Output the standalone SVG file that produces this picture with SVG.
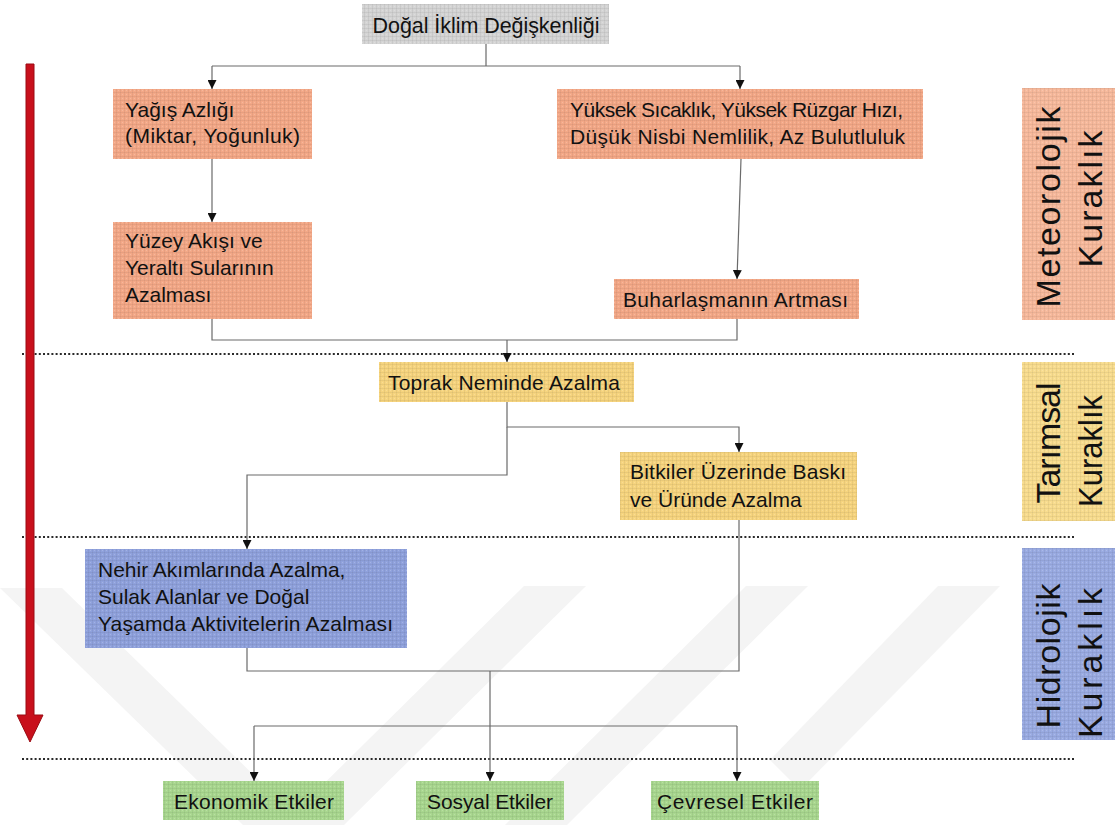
<svg xmlns="http://www.w3.org/2000/svg" width="1115" height="825" viewBox="0 0 1115 825">
  <defs>
    <style>
      text { font-family: "Liberation Sans", Arial, sans-serif; fill: #111111; }
      .t { font-size: 21px; }
      .side { font-size: 34px; }
      .grey { fill: #d4d4d4; }
      .salmon { fill: #f3a887; }
      .salmon-lt { fill: #f7b99c; }
      .yellow { fill: #f6d47e; }
      .yellow-lt { fill: #f8dc8e; }
      .blue { fill: #8fa1dc; }
      .blue-lt { fill: #9aabe2; }
      .green { fill: #a9d78f; }
      .tex { fill: url(#tex); }
      .conn { fill: none; stroke: #6a6a6a; stroke-width: 1.2; }
      .arr { marker-end: url(#ah); }
      .dots { fill: none; stroke: #2a2a2a; stroke-width: 2.2; stroke-dasharray: 2 2.2; }
      .wm { fill: #f4f4f4; }
    </style>
    <!-- canvas-like grain laid over the filled boxes -->
    <pattern id="tex" width="4" height="4" patternUnits="userSpaceOnUse">
      <path d="M0 0.5H4M0.5 0V4" stroke="#000" stroke-opacity="0.05" stroke-width="1"/>
      <rect x="2" y="2" width="1" height="1" fill="#fff" fill-opacity="0.18"/>
    </pattern>
    <marker id="ah" viewBox="0 0 10 10" refX="10" refY="5" markerWidth="9" markerHeight="9" markerUnits="userSpaceOnUse" orient="auto">
      <path d="M0,0 L10,5 L0,10 Z" fill="#111"/>
    </marker>
  </defs>

  <rect width="1115" height="825" fill="#ffffff"/>

  <!-- faint background chevrons -->
  <g id="watermark">
    <polygon class="wm" points="0,588 62,588 305,825 243,825"/>
    <polygon class="wm" points="282,825 344,825 586,586 524,586"/>
    <polygon class="wm" points="505,825 567,825 808,586 746,586"/>
    <polygon class="wm" points="938,586 1000,586 800,790 770,760"/>
  </g>

  <!-- stage separators -->
  <g id="separators">
    <line class="dots" x1="22" y1="354" x2="1076" y2="354"/>
    <line class="dots" x1="22" y1="537" x2="1076" y2="537"/>
    <line class="dots" x1="22" y1="759" x2="1076" y2="759"/>
  </g>

  <!-- time direction arrow -->
  <g id="time-arrow">
    <path d="M26,64 H34 V715 H43 L30,742 L17,715 H26 Z" fill="#c8101c" stroke="#9a0a12" stroke-width="1"/>
  </g>

  <g id="connectors">
    <path class="conn" d="M486,44 V66 M212,66 H740"/>
    <path class="conn arr" d="M212,66 V89"/>
    <path class="conn arr" d="M740,66 V89"/>
    <path class="conn arr" d="M212,159 V222"/>
    <path class="conn arr" d="M741,159 L737,279"/>
    <path class="conn" d="M212,319 V340 H737 V319"/>
    <path class="conn arr" d="M507,340 V362"/>
    <path class="conn arr" d="M507,402 V427 H739 V452"/>
    <path class="conn arr" d="M507,427 V475 H247 V549"/>
    <path class="conn" d="M247,648 V671 H739 V520"/>
    <path class="conn" d="M490,671 V726 M254,726 H737"/>
    <path class="conn arr" d="M254,726 V781"/>
    <path class="conn arr" d="M490,726 V781"/>
    <path class="conn arr" d="M737,726 V781"/>
  </g>

  <g id="n-iklim">
    <rect class="grey" x="362" y="4" width="247" height="40"/>
    <rect class="tex" x="362" y="4" width="247" height="40"/>
    <text x="486" y="33" text-anchor="middle" style="font-size:21.5px" textLength="227">Doğal İklim Değişkenliği</text>
  </g>

  <g id="n-yagis">
    <rect class="salmon" x="113" y="89" width="199" height="70"/>
    <rect class="tex" x="113" y="89" width="199" height="70"/>
    <text class="t" x="125" y="117">Yağış Azlığı</text>
    <text class="t" x="125" y="143" textLength="175">(Miktar, Yoğunluk)</text>
  </g>

  <g id="n-sicaklik">
    <rect class="salmon" x="557" y="89" width="366" height="70"/>
    <rect class="tex" x="557" y="89" width="366" height="70"/>
    <text class="t" x="570" y="117" textLength="333">Yüksek Sıcaklık, Yüksek Rüzgar Hızı,</text>
    <text class="t" x="570" y="144" textLength="335">Düşük Nisbi Nemlilik, Az Bulutluluk</text>
  </g>

  <g id="n-yuzey">
    <rect class="salmon" x="113" y="222" width="199" height="97"/>
    <rect class="tex" x="113" y="222" width="199" height="97"/>
    <text class="t" x="125" y="248">Yüzey Akışı ve</text>
    <text class="t" x="125" y="275">Yeraltı Sularının</text>
    <text class="t" x="125" y="302">Azalması</text>
  </g>

  <g id="n-buhar">
    <rect class="salmon" x="614" y="279" width="245" height="40"/>
    <rect class="tex" x="614" y="279" width="245" height="40"/>
    <text class="t" x="623" y="307" textLength="225">Buharlaşmanın Artması</text>
  </g>

  <g id="n-toprak">
    <rect class="yellow" x="379" y="362" width="255" height="40"/>
    <rect class="tex" x="379" y="362" width="255" height="40"/>
    <text class="t" x="388" y="390" textLength="232">Toprak Neminde Azalma</text>
  </g>

  <g id="n-bitki">
    <rect class="yellow" x="620" y="452" width="237" height="68"/>
    <rect class="tex" x="620" y="452" width="237" height="68"/>
    <text class="t" x="630" y="479" textLength="216">Bitkiler Üzerinde Baskı</text>
    <text class="t" x="630" y="507">ve Üründe Azalma</text>
  </g>

  <g id="n-nehir">
    <rect class="blue" x="85" y="549" width="322" height="99"/>
    <rect class="tex" x="85" y="549" width="322" height="99"/>
    <text class="t" x="98" y="577">Nehir Akımlarında Azalma,</text>
    <text class="t" x="98" y="604">Sulak Alanlar ve Doğal</text>
    <text class="t" x="98" y="631" textLength="295">Yaşamda Aktivitelerin Azalması</text>
  </g>

  <g id="n-ekonomik">
    <rect class="green" x="163" y="781" width="181" height="39"/>
    <rect class="tex" x="163" y="781" width="181" height="39"/>
    <text class="t" x="254" y="809" text-anchor="middle" textLength="160">Ekonomik Etkiler</text>
  </g>

  <g id="n-sosyal">
    <rect class="green" x="416" y="781" width="148" height="39"/>
    <rect class="tex" x="416" y="781" width="148" height="39"/>
    <text class="t" x="490" y="809" text-anchor="middle" textLength="126">Sosyal Etkiler</text>
  </g>

  <g id="n-cevresel">
    <rect class="green" x="651" y="781" width="168" height="39"/>
    <rect class="tex" x="651" y="781" width="168" height="39"/>
    <text class="t" x="735" y="809" text-anchor="middle" textLength="156">Çevresel Etkiler</text>
  </g>

  <g id="l-meteorolojik">
    <rect class="salmon-lt" x="1022" y="88" width="93" height="232"/>
    <rect class="tex" x="1022" y="88" width="93" height="232"/>
    <text class="side" transform="translate(1060,207) rotate(-90)" text-anchor="middle" textLength="201" lengthAdjust="spacing">Meteorolojik</text>
    <text class="side" transform="translate(1102,199) rotate(-90)" text-anchor="middle" textLength="137" lengthAdjust="spacing">Kuraklık</text>
  </g>

  <g id="l-tarimsal">
    <rect class="yellow-lt" x="1022" y="362" width="93" height="159"/>
    <rect class="tex" x="1022" y="362" width="93" height="159"/>
    <text class="side" transform="translate(1060,443) rotate(-90)" text-anchor="middle" textLength="121" lengthAdjust="spacing">Tarımsal</text>
    <text class="side" transform="translate(1102,451) rotate(-90)" text-anchor="middle" textLength="112" lengthAdjust="spacingAndGlyphs">Kuraklık</text>
  </g>

  <g id="l-hidrolojik">
    <rect class="blue-lt" x="1022" y="548" width="93" height="192"/>
    <rect class="tex" x="1022" y="548" width="93" height="192"/>
    <text class="side" transform="translate(1060,656) rotate(-90)" text-anchor="middle" textLength="145" lengthAdjust="spacing">Hidrolojik</text>
    <text class="side" transform="translate(1102,663) rotate(-90)" text-anchor="middle" textLength="150" lengthAdjust="spacing">Kuraklık</text>
  </g>
</svg>
